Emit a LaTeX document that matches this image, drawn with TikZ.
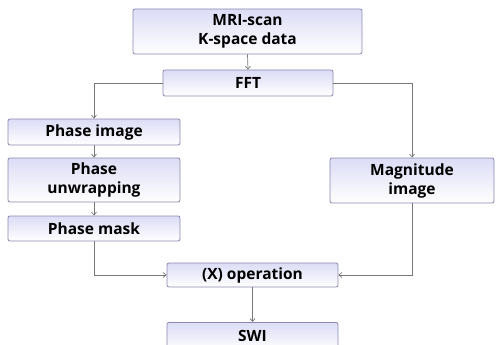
\documentclass[tikz,border=0pt]{standalone}
\usepackage{fontspec}
\setmainfont{Open Sans}
\usetikzlibrary{arrows.meta}
\definecolor{boxedge}{HTML}{8A88B0}
\definecolor{boxtop}{HTML}{DCDCF6}
\definecolor{wire}{HTML}{787878}
\tikzset{
  stepbox/.style={draw=boxedge, line width=0.8pt, rounded corners=2pt,
    top color=boxtop, bottom color=white, inner sep=0pt, align=center,
    font=\fontsize{15.5}{19}\selectfont\bfseries},
  wireline/.style={draw=wire, line width=0.7pt},
  wirearrow/.style={wireline, -{Straight Barb[length=3pt,width=5pt]}},
}
\begin{document}
\begin{tikzpicture}[x=1pt, y=-1pt]
  \useasboundingbox (0,0) rectangle (496,345);
  \clip (0,0) rectangle (496,345);

  % processing steps
  \node[stepbox, minimum width=229pt, minimum height=45pt] (mri)    at (247.5,31.5) {MRI-scan\\K-space data};
  \node[stepbox, minimum width=170pt, minimum height=26pt] (fft)    at (248,83)     {FFT};
  \node[stepbox, minimum width=172pt, minimum height=26pt] (phimg)  at (94,132)     {Phase image};
  \node[stepbox, minimum width=172pt, minimum height=44pt] (unwrap) at (94,180)     {Phase\\unwrapping};
  \node[stepbox, minimum width=172pt, minimum height=25pt] (mask)   at (94,228.5)   {Phase mask};
  \node[stepbox, minimum width=164pt, minimum height=45pt] (mag)    at (412,180.5)  {Magnitude\\image};
  \node[stepbox, minimum width=171pt, minimum height=24pt] (op)     at (252.5,275)  {(X) operation};
  \node[stepbox, minimum width=171pt, minimum height=28pt, anchor=north] (swi) at (252.5,322) {SWI};

  % connectors
  \draw[wirearrow] (mri.south) -- (fft.north);
  \draw[wirearrow] (fft.west) -| (phimg.north);
  \draw[wirearrow] (fft.east) -| (mag.north);
  \draw[wirearrow] (phimg.south) -- (unwrap.north);
  \draw[wirearrow] (unwrap.south) -- (mask.north);
  \draw[wirearrow] (mask.south) |- (op.west);
  \draw[wirearrow] (mag.south) |- (op.east);
  \draw[wirearrow] (op.south) -- (swi.north);
\end{tikzpicture}
\end{document}
